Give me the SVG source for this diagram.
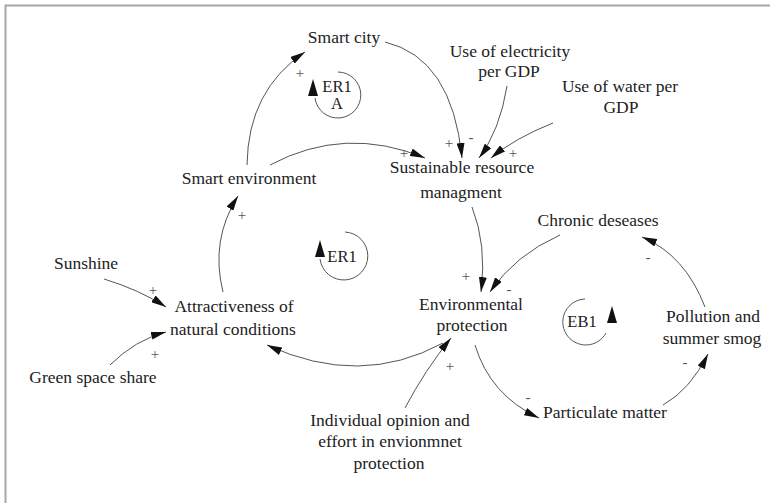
<svg xmlns="http://www.w3.org/2000/svg" width="770" height="503" viewBox="0 0 770 503">
<defs>
<marker id="ah" markerUnits="userSpaceOnUse" markerWidth="16" markerHeight="8" refX="15" refY="4" orient="auto">
<path d="M0,0 L15,4 L0,8 Z" fill="#111"/>
</marker>
<style>
.t{font-family:"Liberation Serif","Times New Roman",serif;font-size:17.5px;fill:#222;text-anchor:middle}
.l{font-family:"Liberation Serif","Times New Roman",serif;font-size:16.5px;fill:#222;text-anchor:middle}
.p{font-family:"Liberation Serif","Times New Roman",serif;font-size:15px;fill:#555;text-anchor:middle}
.c{fill:none;stroke:#555;stroke-width:1;marker-end:url(#ah)}
.loop{fill:none;stroke:#555;stroke-width:1}
</style>
</defs>
<rect x="0" y="0" width="770" height="503" fill="#fff"/>
<path d="M5.5,503 L5.5,5.5 L770,5.5" fill="none" stroke="#a8a8a8" stroke-width="2"/>

<g id="connectors">
<path class="c" d="M247,165 Q248,90 305,52"/>
<path class="c" d="M270,165 Q345,125 425,158"/>
<path class="c" d="M385,42 Q452,58 462,158"/>
<path class="c" d="M507,86 Q500,130 479,158"/>
<path class="c" d="M553,123 Q515,138 491,158"/>
<path class="c" d="M472,207 Q487,245 481,292"/>
<path class="c" d="M560,235 Q515,255 490,292"/>
<path class="c" d="M475,345 Q490,395 539,418"/>
<path class="c" d="M663,405 Q690,390 708,354"/>
<path class="c" d="M705,307 Q685,255 642,237"/>
<path class="c" d="M443,343 Q360,388 267,345"/>
<path class="c" d="M405,408 Q425,370 451,338"/>
<path class="c" d="M223,292 Q210,240 238,196"/>
<path class="c" d="M104,279 Q140,290 166,307"/>
<path class="c" d="M110,365 Q135,340 166,332"/>
</g>

<g id="polarities">
<text class="p" x="300" y="78">+</text>
<text class="p" x="242" y="220">+</text>
<text class="p" x="153" y="295">+</text>
<text class="p" x="155" y="359">+</text>
<text class="p" x="449" y="148">+</text>
<text class="p" x="471" y="142">-</text>
<text class="p" x="513" y="158">+</text>
<text class="p" x="404" y="158">+</text>
<text class="p" x="466" y="281">+</text>
<text class="p" x="509" y="294">-</text>
<text class="p" x="528" y="402">-</text>
<text class="p" x="685" y="367">-</text>
<text class="p" x="648" y="262">-</text>
<text class="p" x="450" y="371">+</text>
</g>

<g id="loop-ER1A">
<path class="loop" d="M338,72 A23,23 0 1 1 315,98"/>
<polygon points="308,96 318,96 313,79" fill="#111"/>
<text class="l" x="337" y="92">ER1</text>
<text class="l" x="337" y="109">A</text>
</g>
<g id="loop-ER1">
<path class="loop" d="M345,232 A24,24 0 1 1 320,259"/>
<polygon points="315,257 325,257 320,240" fill="#111"/>
<text class="l" x="342" y="262">ER1</text>
</g>
<g id="loop-EB1">
<path class="loop" d="M585,299 A23,23 0 1 0 606,333"/>
<polygon points="607,323 617,323 612,306" fill="#111"/>
<text class="l" x="582" y="327">EB1</text>
</g>

<g id="smart-city"><text class="t" x="344" y="43">Smart city</text></g>
<g id="electricity"><text class="t" x="510" y="57">Use of electricity</text><text class="t" x="509" y="77">per GDP</text></g>
<g id="water"><text class="t" x="620" y="92">Use of water per</text><text class="t" x="621" y="113">GDP</text></g>
<g id="smart-environment"><text class="t" x="249" y="184">Smart environment</text></g>
<g id="sustainable"><text class="t" x="462" y="173">Sustainable resource</text><text class="t" x="461" y="198">managment</text></g>
<g id="chronic"><text class="t" x="598" y="226">Chronic deseases</text></g>
<g id="sunshine"><text class="t" x="86" y="269">Sunshine</text></g>
<g id="attractiveness"><text class="t" x="234" y="312">Attractiveness of</text><text class="t" x="233" y="335">natural conditions</text></g>
<g id="environmental"><text class="t" x="471" y="310">Environmental</text><text class="t" x="472" y="331">protection</text></g>
<g id="pollution"><text class="t" x="713" y="322">Pollution and</text><text class="t" x="712" y="344">summer smog</text></g>
<g id="green"><text class="t" x="93" y="383">Green space share</text></g>
<g id="particulate"><text class="t" x="605" y="418">Particulate matter</text></g>
<g id="individual"><text class="t" x="390" y="426">Individual opinion and</text><text class="t" x="390" y="447">effort in envionmnet</text><text class="t" x="389" y="469">protection</text></g>
</svg>
